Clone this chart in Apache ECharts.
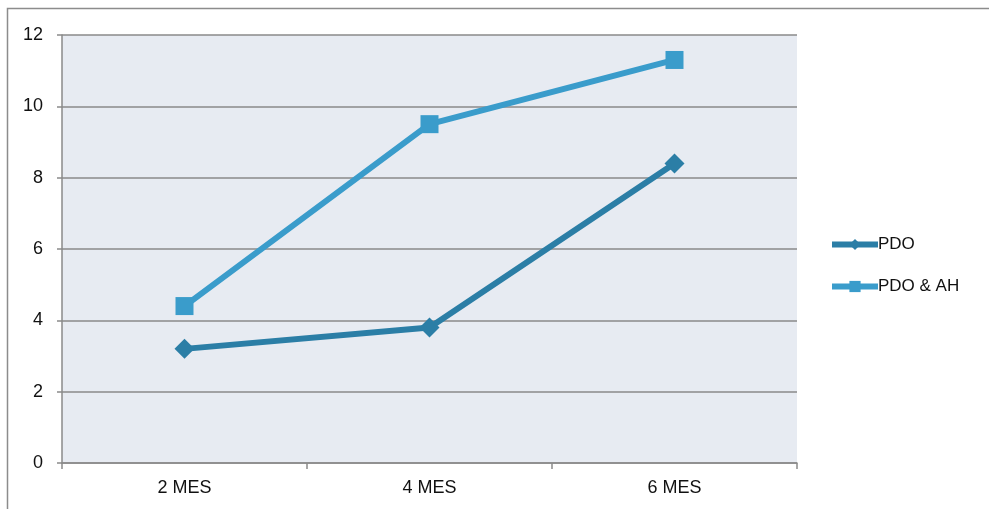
<!DOCTYPE html>
<html>
<head>
<meta charset="utf-8">
<script src="https://cdn.jsdelivr.net/npm/echarts@6/dist/echarts.min.js"></script>
<style>
  html, body { margin: 0; padding: 0; background: #ffffff; }
  #chart { width: 989px; height: 509px; }
</style>
</head>
<body>
<div id="chart"></div>
<script>
// Months of follow-up
var categories = ['2 MES', '4 MES', '6 MES'];
// Series values
var pdo = [3.2, 3.8, 8.4];
var pdoAh = [4.4, 9.5, 11.3];
// Y axis range and tick step
var yMin = 0, yMax = 12, yStep = 2;

var chart = echarts.init(document.getElementById('chart'));
var font = 'Liberation Sans, Arial, Helvetica, sans-serif';

chart.setOption({
  animation: false,
  backgroundColor: '#ffffff',
  graphic: [{
    type: 'rect',
    shape: { x: 7.5, y: 8.5, width: 1000, height: 520 },
    style: { fill: 'none', stroke: '#8c8c8c', lineWidth: 1.5 },
    z: -1
  }],
  grid: {
    left: 62, right: 192, top: 35, bottom: 46,
    show: true,
    backgroundColor: '#e7ebf2',
    borderWidth: 0
  },
  legend: {
    orient: 'vertical',
    left: 824, top: 231,
    itemWidth: 46, itemHeight: 14,
    itemGap: 25,
    lineStyle: { width: 6 },
    textStyle: { fontFamily: font, fontSize: 17, color: '#111111', padding: [0, 0, 0, -5] },
    data: ['PDO', 'PDO & AH']
  },
  xAxis: {
    type: 'category',
    data: categories,
    boundaryGap: true,
    axisLine: { show: true, lineStyle: { color: '#8a8a8a', width: 1.5 } },
    axisTick: { show: true, length: 6, lineStyle: { color: '#8a8a8a', width: 1.5 } },
    axisLabel: { fontFamily: font, fontSize: 18, color: '#111111', margin: 16 },
    splitLine: { show: false }
  },
  yAxis: {
    type: 'value',
    min: yMin, max: yMax, interval: yStep,
    axisLine: { show: true, lineStyle: { color: '#8a8a8a', width: 1.5 } },
    axisTick: { show: true, length: 5, lineStyle: { color: '#8a8a8a', width: 1.5 } },
    axisLabel: { fontFamily: font, fontSize: 18, color: '#111111', margin: 19 },
    splitLine: { show: true, lineStyle: { color: '#8a8a8a', width: 1.5 } }
  },
  series: [
    {
      name: 'PDO',
      type: 'line',
      data: pdo,
      symbol: 'diamond',
      symbolSize: 20,
      color: '#2b7ea6',
      lineStyle: { width: 6, color: '#2b7ea6' },
      itemStyle: { color: '#2b7ea6' },
      z: 3
    },
    {
      name: 'PDO & AH',
      type: 'line',
      data: pdoAh,
      symbol: 'rect',
      symbolSize: 18,
      color: '#3a9ccb',
      lineStyle: { width: 6, color: '#3a9ccb' },
      itemStyle: { color: '#3a9ccb' },
      z: 2
    }
  ]
});
</script>
</body>
</html>
